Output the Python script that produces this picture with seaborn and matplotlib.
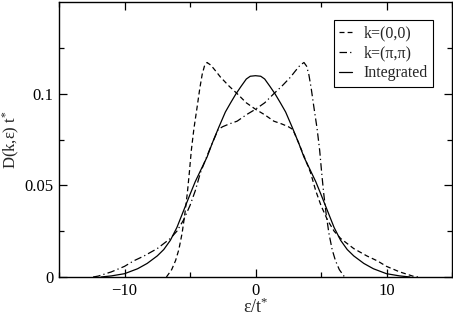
import pandas as pd
import matplotlib
matplotlib.use('Agg')
import matplotlib.pyplot as plt
import seaborn as sns

# k=(0,0) spectral function
eps_00 = [-6.8, -6.4, -6.1, -5.85, -5.6, -5.4, -5.2, -5.05, -4.9, -4.7, -4.45, -4.25,
          -4.07, -3.9, -3.7, -3.4, -3.0, -2.67, -2.0, -1.4, -0.7, 0.0, 0.7, 1.4, 2.0,
          2.5, 2.85, 3.3, 3.7, 4.2, 4.6, 5.0, 5.5, 6.0, 6.5, 7.5, 8.5, 9.3, 10.0, 11.0,
          12.0, 12.4]
d_00 = [0.0, 0.004, 0.009, 0.015, 0.024, 0.034, 0.046, 0.057, 0.069, 0.081, 0.093, 0.103,
        0.1105, 0.115, 0.117, 0.1155, 0.112, 0.109, 0.104, 0.100, 0.095, 0.0915, 0.0885,
        0.085, 0.0835, 0.082, 0.0805, 0.073, 0.066, 0.057, 0.047, 0.039, 0.031, 0.025,
        0.021, 0.0155, 0.0115, 0.0088, 0.0058, 0.0028, 0.0005, 0.0]

# k=(pi,pi)
eps_pp = [-12.4, -12.0, -11.0, -10.0, -9.3, -8.5, -7.5, -6.5, -6.0, -5.5, -5.0, -4.6,
          -4.2, -3.7, -3.3, -2.85, -2.5, -2.0, -1.4, -0.7, 0.0, 0.7, 1.4, 2.0, 2.67,
          3.0, 3.4, 3.7, 3.9, 4.07, 4.25, 4.45, 4.7, 4.9, 5.05, 5.2, 5.4, 5.6, 5.85,
          6.1, 6.4, 6.8]
d_pp = [0.0, 0.0005, 0.0028, 0.0058, 0.0088, 0.0115, 0.0155, 0.021, 0.025, 0.031, 0.039,
        0.047, 0.057, 0.066, 0.073, 0.0805, 0.082, 0.0835, 0.085, 0.0885, 0.0915, 0.095,
        0.100, 0.104, 0.109, 0.112, 0.1155, 0.117, 0.115, 0.1105, 0.103, 0.093, 0.081,
        0.069, 0.057, 0.046, 0.034, 0.024, 0.015, 0.009, 0.004, 0.0]

# momentum-integrated DOS
eps_int = [-11.8, -11.0, -10.0, -9.0, -8.27, -7.5, -7.0, -6.5, -6.0, -5.5, -5.0, -4.6,
           -4.2, -3.7, -3.3, -2.8, -2.3, -1.9, -1.5, -1.1, -0.7, -0.4, 0.0, 0.4, 0.7,
           1.1, 1.5, 1.9, 2.3, 2.8, 3.3, 3.7, 4.2, 4.6, 5.0, 5.5, 6.0, 6.5, 7.0, 7.5,
           8.27, 9.0, 10.0, 11.0, 11.8]
d_int = [0.0, 0.0006, 0.0018, 0.0045, 0.0074, 0.0115, 0.015, 0.020, 0.027, 0.036, 0.045,
         0.052, 0.058, 0.0654, 0.073, 0.0817, 0.090, 0.095, 0.0998, 0.104, 0.108, 0.1095,
         0.1098, 0.1095, 0.108, 0.104, 0.0998, 0.095, 0.090, 0.0817, 0.073, 0.0654,
         0.058, 0.052, 0.045, 0.036, 0.027, 0.020, 0.015, 0.0115, 0.0074, 0.0045,
         0.0018, 0.0006, 0.0]

sns.set_style('ticks')
plt.rcParams['font.family'] = ['Liberation Serif', 'DejaVu Serif']
plt.rcParams['mathtext.fontset'] = 'custom'
plt.rcParams['mathtext.rm'] = 'Liberation Serif'
plt.rcParams['mathtext.it'] = 'Liberation Serif:italic'

fig = plt.figure(figsize=(4.53, 3.17), dpi=100)
ax = fig.add_axes([59 / 453, 40 / 317, 393 / 453, 275 / 317])

sns.lineplot(x=eps_00, y=d_00, ax=ax, color='black', lw=0.9, sort=False,
             linestyle=(0, (4, 2.5)), label='k=(0,0)')
sns.lineplot(x=eps_pp, y=d_pp, ax=ax, color='black', lw=0.9, sort=False,
             linestyle=(0, (6, 2.5, 1, 2.5)), label='k=(π,π)')
sns.lineplot(x=eps_int, y=d_int, ax=ax, color='black', lw=0.9, sort=False,
             linestyle='-', label='Integrated')

ax.set_xlim(-15, 15)
ax.set_ylim(0, 0.15)
ax.set_xticks([-10, 0, 10])
ax.set_xticks([-15, -5, 5, 15], minor=True)
ax.set_yticks([0, 0.05, 0.1])
ax.set_yticklabels(['0', '0.05', '0.1'])
ax.set_yticks([0.025, 0.075, 0.125], minor=True)
ax.tick_params(which='both', direction='in', top=True, right=True, width=0.9,
               labelsize=12, colors='black')
ax.tick_params(which='major', length=6, pad=4)
ax.tick_params(which='minor', length=3.5)
for sp in ax.spines.values():
    sp.set_linewidth(1.0)
    sp.set_color('black')

ax.set_xlabel(r'ε/t$^{*}$', fontsize=13, labelpad=-1)
ax.set_ylabel(r'D(k,ε) t$^{*}$', fontsize=12, labelpad=1.5)

leg = ax.legend(loc='upper right', bbox_to_anchor=(0.952, 0.935), fontsize=11.5,
                frameon=True, fancybox=False, edgecolor='black', framealpha=1,
                handlelength=0.8, handletextpad=0.7, borderpad=0.35, labelspacing=0.25,
                borderaxespad=0)
leg.get_frame().set_linewidth(0.8)

fig.savefig('out.png', dpi=100)
